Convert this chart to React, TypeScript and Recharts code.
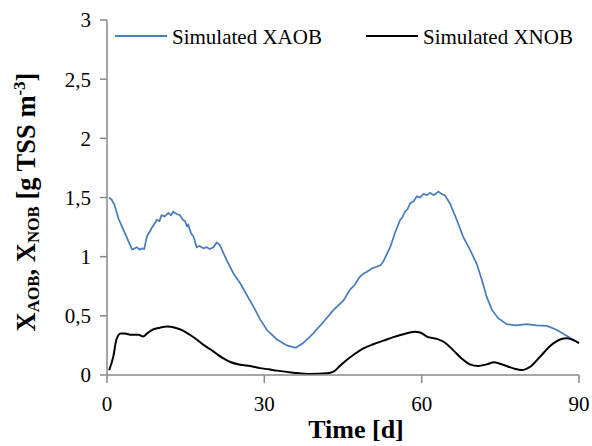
import React from "react";
import { LineChart, Line, XAxis, YAxis, Legend } from "recharts";

// Simulated XAOB (blue), days and g TSS/m3
const aobDays = [
  0.4, 0.9, 1.4, 2.2, 3.1, 4.1, 4.8, 5.7, 6.2, 6.6, 7.1, 7.6, 8.5, 9.5, 10.0, 10.4, 11.0, 11.7, 12.2, 12.6,
  13.3, 13.9, 14.5, 14.9, 15.2, 15.5, 16.0, 16.5, 17.1, 17.6, 18.4, 19.0, 19.6, 20.3, 20.9, 21.5, 22.8, 24.1,
  25.4, 26.6, 27.9, 29.2, 30.5, 32.4, 34.3, 36.0, 37.4, 39.3, 41.3, 43.2, 45.1, 46.3, 47.2, 48.2, 49.0, 49.5,
  50.5, 51.4, 52.2, 52.7, 54.0, 54.9, 55.9, 56.3, 56.8, 57.3, 57.8, 58.5, 59.1, 59.7, 60.3, 61.0, 61.6, 62.3,
  63.2, 63.8, 64.4, 65.4, 66.7, 67.9, 69.2, 70.5, 71.5, 72.4, 73.4, 74.6, 76.2, 78.1, 80.0, 82.0, 83.9, 85.8,
  87.7, 90.0,
];
const aobValues = [
  1.5, 1.48, 1.44, 1.32, 1.23, 1.13, 1.06, 1.08, 1.06, 1.07, 1.065, 1.17, 1.24, 1.31, 1.3, 1.35, 1.34, 1.37, 1.35, 1.38,
  1.36, 1.35, 1.31, 1.3, 1.26, 1.27, 1.2, 1.17, 1.08, 1.09, 1.07, 1.08, 1.065, 1.08, 1.12, 1.1, 0.97, 0.86,
  0.775, 0.68, 0.58, 0.47, 0.38, 0.3, 0.25, 0.23, 0.27, 0.35, 0.45, 0.55, 0.63, 0.72, 0.76, 0.83, 0.86, 0.87,
  0.9, 0.915, 0.93, 0.96, 1.08, 1.2, 1.31, 1.33, 1.38, 1.4, 1.45, 1.47, 1.51, 1.5, 1.53, 1.52, 1.54, 1.52,
  1.55, 1.53, 1.52, 1.45, 1.31, 1.17, 1.06, 0.94, 0.8, 0.66, 0.55, 0.48, 0.43, 0.42, 0.43, 0.42, 0.415, 0.38,
  0.33, 0.27,
];

// Simulated XNOB (black)
const nobDays = [
  0.4, 1.2, 1.8, 2.6, 3.4, 4.7, 6.0, 6.9, 7.6, 8.8, 10.1, 11.4, 13.0, 14.5, 15.8, 17.1, 18.4, 19.6, 20.9, 22.2,
  23.5, 25.4, 27.3, 29.2, 30.8, 32.4, 35.5, 38.7, 41.9, 43.2, 44.4, 45.7, 47.3, 48.9, 50.8, 52.7, 54.6, 56.5,
  58.7, 59.7, 61.0, 62.9, 64.4, 66.0, 67.6, 69.2, 70.8, 72.4, 73.8, 75.6, 77.5, 79.1, 80.7, 82.6, 84.5, 86.4,
  87.7, 88.9, 90.0,
];
const nobValues = [
  0.04, 0.155, 0.3, 0.35, 0.35, 0.34, 0.34, 0.325, 0.35, 0.385, 0.4, 0.41, 0.4, 0.375, 0.34, 0.3, 0.255, 0.22, 0.18, 0.14,
  0.11, 0.087, 0.076, 0.058, 0.048, 0.037, 0.02, 0.008, 0.014, 0.028, 0.076, 0.127, 0.18, 0.225, 0.26, 0.29, 0.32, 0.345,
  0.365, 0.36, 0.325, 0.305, 0.275, 0.21, 0.14, 0.09, 0.076, 0.09, 0.107, 0.085, 0.056, 0.042, 0.07, 0.155, 0.245, 0.3,
  0.31, 0.295, 0.27,
];

const xTicks = [0, 30, 60, 90];
const yTicks = [0, 0.5, 1, 1.5, 2, 2.5, 3];

const aobData = aobDays.map((t, i) => ({ t, v: aobValues[i] }));
const nobData = nobDays.map((t, i) => ({ t, v: nobValues[i] }));

const BLUE = "#4a7ebb";
const GREY = "#888888";
const FONT = "Liberation Serif, Tinos, Times New Roman, DejaVu Serif, serif";

function renderLegend() {
  return (
    <svg width={592} height={50} style={{ display: "block" }}>
      <line x1={115} y1={36} x2={167} y2={36} stroke={BLUE} strokeWidth={2} />
      <text x={172} y={44} fontSize={21} style={{ fontFamily: FONT }} fill="#000">
        Simulated XAOB
      </text>
      <line x1={366} y1={36} x2={418} y2={36} stroke="#000" strokeWidth={2} />
      <text x={423} y={44} fontSize={21} style={{ fontFamily: FONT }} fill="#000">
        Simulated XNOB
      </text>
    </svg>
  );
}

function YLabel() {
  return (
    <text
      transform="translate(35, 202) rotate(-90)"
      textAnchor="middle"
      style={{ fontFamily: FONT }}
      fontWeight="bold"
      fontSize={26.5}
      fill="#000"
    >
      X
      <tspan fontSize={17} dy={4}>AOB</tspan>
      <tspan dy={-4}>, X</tspan>
      <tspan fontSize={17} dy={4}>NOB</tspan>
      <tspan dy={-4}> [g TSS m</tspan>
      <tspan fontSize={17} dy={-10}>-3</tspan>
      <tspan dy={10}>]</tspan>
    </text>
  );
}

export default function App() {
  return (
    <div style={{ position: "absolute", left: 0, top: 0, fontFamily: FONT }}>
      <LineChart
        width={592}
        height={446}
        margin={{ top: 20, right: 13, bottom: 0, left: 0 }}
        style={{ fontFamily: FONT }}
      >
        <XAxis
          type="number"
          dataKey="t"
          domain={[0, 90]}
          ticks={xTicks}
          height={71}
          tickSize={8}
          tickMargin={13}
          tick={{ fill: "#000", fontSize: 21, fontFamily: FONT }}
          axisLine={{ stroke: GREY, strokeWidth: 1.5 }}
          tickLine={{ stroke: GREY, strokeWidth: 1.5 }}
          allowDuplicatedCategory={false}
          label={{
            value: "Time [d]",
            position: "insideBottom",
            offset: 8,
            dx: 13,
            style: { fill: "#000", fontSize: 26, fontWeight: "bold", fontFamily: FONT },
          }}
        />
        <YAxis
          type="number"
          domain={[0, 3]}
          ticks={yTicks}
          width={107}
          tickSize={7}
          tickMargin={9}
          tick={{ fill: "#000", fontSize: 21, fontFamily: FONT }}
          tickFormatter={(v: number) => String(v).replace(".", ",")}
          axisLine={{ stroke: GREY, strokeWidth: 1.5 }}
          tickLine={{ stroke: GREY, strokeWidth: 1.5 }}
          label={{ content: () => <YLabel /> }}
        />
        <Legend
          layout="vertical"
          align="center"
          verticalAlign="middle"
          wrapperStyle={{ top: 0, left: 0, width: 592, height: 50 }}
          content={renderLegend}
        />
        <Line
          data={aobData}
          dataKey="v"
          type="linear"
          stroke={BLUE}
          strokeWidth={1.75}
          dot={false}
          isAnimationActive={false}
        />
        <Line
          data={nobData}
          dataKey="v"
          type="monotone"
          stroke="#000"
          strokeWidth={2}
          dot={false}
          isAnimationActive={false}
        />
      </LineChart>
    </div>
  );
}
